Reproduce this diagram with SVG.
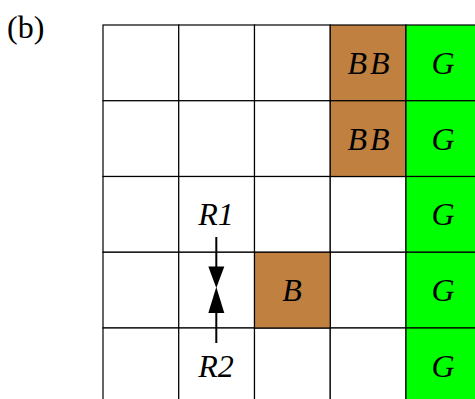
<svg xmlns="http://www.w3.org/2000/svg" width="475" height="399" viewBox="0 0 475 399">
  <style>
    .cell { stroke: #000; stroke-width: 1.2; }
    .empty { fill: #fff; }
    .brown { fill: #BF8040; }
    .green { fill: #00FF00; }
    .lbl { font-family: "Liberation Serif", "DejaVu Serif", serif; font-style: italic; font-size: 32px; text-anchor: middle; fill: #000; }
    .wide { letter-spacing: 3px; }
    .tag { font-family: "Liberation Serif", "DejaVu Serif", serif; font-size: 32px; fill: #000; }
    .conn { stroke: #000; stroke-width: 2; fill: none; }
    .head { fill: #000; }
  </style>

  <text class="tag" x="7" y="38">(b)</text>

  <!-- grid background: 5 columns x 5 rows -->
  <g id="grid">
    <rect class="cell empty" x="103" y="25" width="75.75" height="75.75"/>
    <rect class="cell empty" x="178.75" y="25" width="75.75" height="75.75"/>
    <rect class="cell empty" x="254.5" y="25" width="75.75" height="75.75"/>
    <rect class="cell empty" x="103" y="100.75" width="75.75" height="75.75"/>
    <rect class="cell empty" x="178.75" y="100.75" width="75.75" height="75.75"/>
    <rect class="cell empty" x="254.5" y="100.75" width="75.75" height="75.75"/>
    <rect class="cell empty" x="103" y="176.5" width="75.75" height="75.75"/>
    <rect class="cell empty" x="178.75" y="176.5" width="75.75" height="75.75"/>
    <rect class="cell empty" x="254.5" y="176.5" width="75.75" height="75.75"/>
    <rect class="cell empty" x="330.25" y="176.5" width="75.75" height="75.75"/>
    <rect class="cell empty" x="103" y="252.25" width="75.75" height="75.75"/>
    <rect class="cell empty" x="178.75" y="252.25" width="75.75" height="75.75"/>
    <rect class="cell empty" x="330.25" y="252.25" width="75.75" height="75.75"/>
    <rect class="cell empty" x="103" y="328" width="75.75" height="75.75"/>
    <rect class="cell empty" x="178.75" y="328" width="75.75" height="75.75"/>
    <rect class="cell empty" x="254.5" y="328" width="75.75" height="75.75"/>
    <rect class="cell empty" x="330.25" y="328" width="75.75" height="75.75"/>
  </g>

  <!-- brown blocks -->
  <g id="bb1">
    <rect class="cell brown" x="330.25" y="25" width="75.75" height="75.75"/>
    <text class="lbl wide" x="370" y="74">BB</text>
  </g>
  <g id="bb2">
    <rect class="cell brown" x="330.25" y="100.75" width="75.75" height="75.75"/>
    <text class="lbl wide" x="370" y="150">BB</text>
  </g>
  <g id="b">
    <rect class="cell brown" x="254.5" y="252.25" width="75.75" height="75.75"/>
    <text class="lbl" x="292" y="301">B</text>
  </g>

  <!-- green goal column -->
  <g id="g1">
    <rect class="cell green" x="406" y="25" width="75.75" height="75.75"/>
    <text class="lbl" x="443" y="74">G</text>
  </g>
  <g id="g2">
    <rect class="cell green" x="406" y="100.75" width="75.75" height="75.75"/>
    <text class="lbl" x="443" y="150">G</text>
  </g>
  <g id="g3">
    <rect class="cell green" x="406" y="176.5" width="75.75" height="75.75"/>
    <text class="lbl" x="443" y="225">G</text>
  </g>
  <g id="g4">
    <rect class="cell green" x="406" y="252.25" width="75.75" height="75.75"/>
    <text class="lbl" x="443" y="301">G</text>
  </g>
  <g id="g5">
    <rect class="cell green" x="406" y="328" width="75.75" height="75.75"/>
    <text class="lbl" x="443" y="377">G</text>
  </g>

  <!-- robot labels -->
  <g id="r1">
    <text class="lbl" x="216" y="225">R1</text>
  </g>
  <g id="r2">
    <text class="lbl" x="216" y="377">R2</text>
  </g>

  <!-- converging arrows -->
  <g id="connectors">
    <line class="conn" x1="216.3" y1="237" x2="216.3" y2="268"/>
    <polygon class="head" points="208.3,266.5 224.3,266.5 216.3,288"/>
    <line class="conn" x1="216.3" y1="312" x2="216.3" y2="343"/>
    <polygon class="head" points="216.3,287 224.3,313 208.3,313"/>
  </g>
</svg>
